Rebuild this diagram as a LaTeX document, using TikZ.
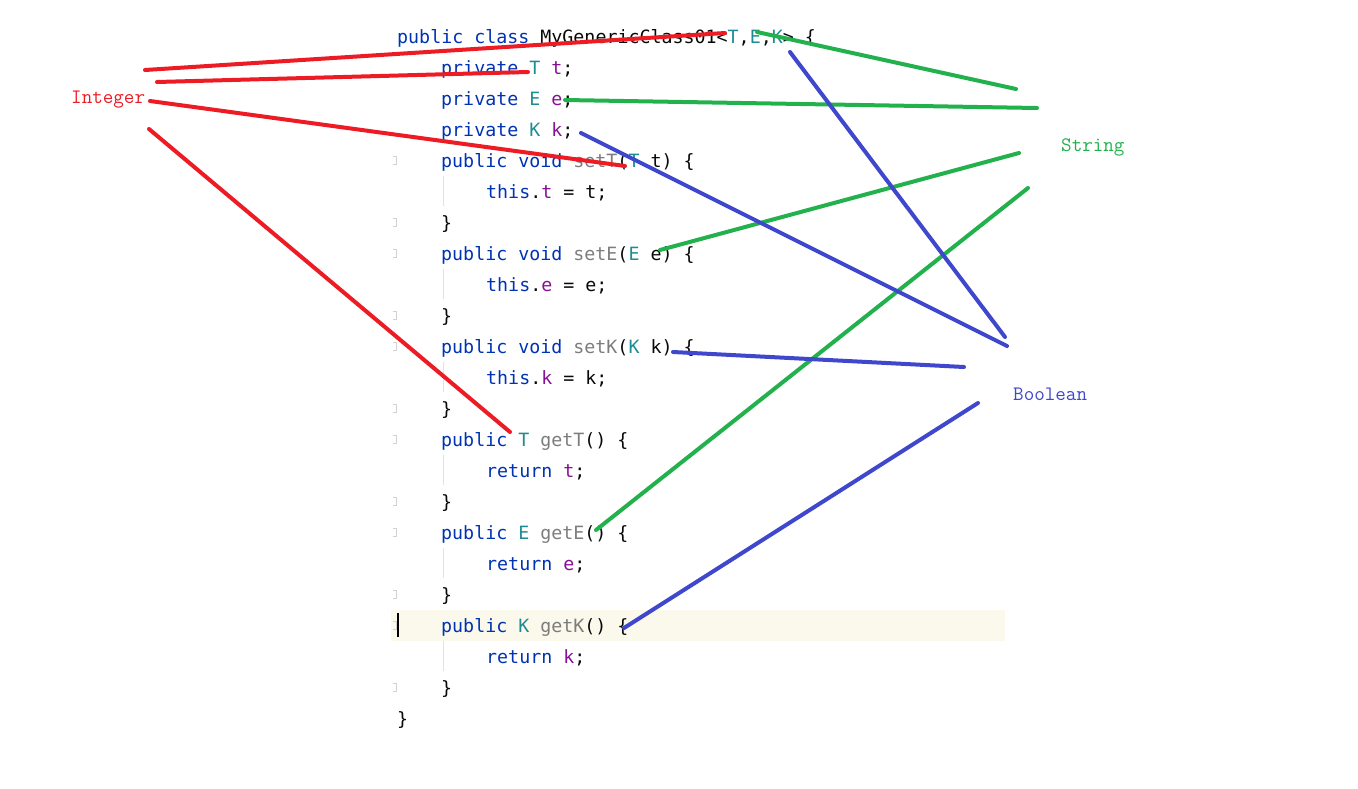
\documentclass[tikz,border=0pt]{standalone}
\usepackage{fontspec}
\newfontfamily\codefont{DejaVu Sans Mono}
\definecolor{kwc}{HTML}{0033B3}
\definecolor{tpc}{HTML}{1E8C93}
\definecolor{flc}{HTML}{871094}
\definecolor{mtc}{HTML}{7D7D7D}
\definecolor{txc}{HTML}{080808}
\definecolor{redp}{HTML}{ED1C24}
\definecolor{greenp}{HTML}{22B14C}
\definecolor{bluep}{HTML}{3F48CC}
\definecolor{hlc}{HTML}{FBF8EC}
\definecolor{guidec}{HTML}{E2E2E2}
\definecolor{foldc}{HTML}{D2D2D2}
\newcommand{\ckw}[1]{\textcolor{kwc}{#1}}
\newcommand{\ctp}[1]{\textcolor{tpc}{#1}}
\newcommand{\cfl}[1]{\textcolor{flc}{#1}}
\newcommand{\cmt}[1]{\textcolor{mtc}{#1}}
\tikzset{
  codeline/.style={anchor=base west, inner sep=0pt, text=txc,
    font=\codefont\fontsize{18.3}{22}\selectfont},
  lbl/.style={anchor=base west, inner sep=0pt,
    font=\ttfamily\fontsize{20.5}{24}\selectfont},
  pen/.style={line width=4pt, line cap=round},
  guide/.style={draw=guidec, line width=1pt},
  fold/.style={draw=foldc, line width=1pt}
}
\begin{document}
\begin{tikzpicture}[x=1pt,y=-1pt]
\useasboundingbox (0,0) rectangle (1358,788);
% current line highlight and caret
\fill[hlc] (391,610) rectangle (1005,641);
\fill[black] (397,613) rectangle (399,637);
% indent guides
\foreach \yy in {191,284,377,470,563,656} {
  \draw[guide] (443,\yy-15) -- (443,\yy+15);
}
% fold marks
\foreach \yy in {160,222,253,315,346,408,439,501,532,594,625,687} {
  \draw[fold] (393,\yy-4) -- (396,\yy-4) -- (396,\yy+4) -- (393,\yy+4);
}
% code
\node[codeline] (c1)  at (397,43)  {\ckw{public} \ckw{class} MyGenericClass01<\ctp{T},\ctp{E},\ctp{K}> \{};
\node[codeline] (c2)  at (441,74)  {\ckw{private} \ctp{T} \cfl{t};};
\node[codeline] (c3)  at (441,105) {\ckw{private} \ctp{E} \cfl{e};};
\node[codeline] (c4)  at (441,136) {\ckw{private} \ctp{K} \cfl{k};};
\node[codeline] (c5)  at (441,167) {\ckw{public} \ckw{void} \cmt{setT}(\ctp{T} t) \{};
\node[codeline] (c6)  at (486,198) {\ckw{this}.\cfl{t} = t;};
\node[codeline] (c7)  at (441,229) {\}};
\node[codeline] (c8)  at (441,260) {\ckw{public} \ckw{void} \cmt{setE}(\ctp{E} e) \{};
\node[codeline] (c9)  at (486,291) {\ckw{this}.\cfl{e} = e;};
\node[codeline] (c10) at (441,322) {\}};
\node[codeline] (c11) at (441,353) {\ckw{public} \ckw{void} \cmt{setK}(\ctp{K} k) \{};
\node[codeline] (c12) at (486,384) {\ckw{this}.\cfl{k} = k;};
\node[codeline] (c13) at (441,415) {\}};
\node[codeline] (c14) at (441,446) {\ckw{public} \ctp{T} \cmt{getT}() \{};
\node[codeline] (c15) at (486,477) {\ckw{return} \cfl{t};};
\node[codeline] (c16) at (441,508) {\}};
\node[codeline] (c17) at (441,539) {\ckw{public} \ctp{E} \cmt{getE}() \{};
\node[codeline] (c18) at (486,570) {\ckw{return} \cfl{e};};
\node[codeline] (c19) at (441,601) {\}};
\node[codeline] (c20) at (441,632) {\ckw{public} \ctp{K} \cmt{getK}() \{};
\node[codeline] (c21) at (486,663) {\ckw{return} \cfl{k};};
\node[codeline] (c22) at (441,694) {\}};
\node[codeline] (c23) at (397,725) {\}};
% labels
\node[lbl, text=redp]   (integer) at (71,103)   {Integer};
\node[lbl, text=greenp] (string)  at (1061,151) {String};
\node[lbl, text=bluep]  (boolean) at (1013,400) {Boolean};
% stroke end points
\coordinate (r1a) at (145,70);  \coordinate (r1b) at (725,33);
\coordinate (r2a) at (157,82);  \coordinate (r2b) at (528,72);
\coordinate (r3a) at (150,101); \coordinate (r3b) at (625,166);
\coordinate (r4a) at (149,129); \coordinate (r4b) at (510,432);
\coordinate (g1a) at (757,32);  \coordinate (g1b) at (1016,89);
\coordinate (g2a) at (565,100); \coordinate (g2b) at (1037,108);
\coordinate (g3a) at (660,250); \coordinate (g3b) at (1019,153);
\coordinate (g4a) at (596,530); \coordinate (g4b) at (1028,188);
\coordinate (b1a) at (790,52);  \coordinate (b1b) at (1005,337);
\coordinate (b2a) at (581,133); \coordinate (b2b) at (1007,346);
\coordinate (b3a) at (673,352); \coordinate (b3b) at (964,367);
\coordinate (b4a) at (624,628); \coordinate (b4b) at (978,403);
% strokes
\draw[pen, redp] (r1a) -- (r1b);
\draw[pen, redp] (r2a) -- (r2b);
\draw[pen, redp] (r3a) -- (r3b);
\draw[pen, redp] (r4a) -- (r4b);
\draw[pen, greenp] (g1a) -- (g1b);
\draw[pen, greenp] (g2a) -- (g2b);
\draw[pen, greenp] (g3a) -- (g3b);
\draw[pen, greenp] (g4a) -- (g4b);
\draw[pen, bluep] (b1a) -- (b1b);
\draw[pen, bluep] (b2a) -- (b2b);
\draw[pen, bluep] (b3a) -- (b3b);
\draw[pen, bluep] (b4a) -- (b4b);
\end{tikzpicture}
\end{document}
